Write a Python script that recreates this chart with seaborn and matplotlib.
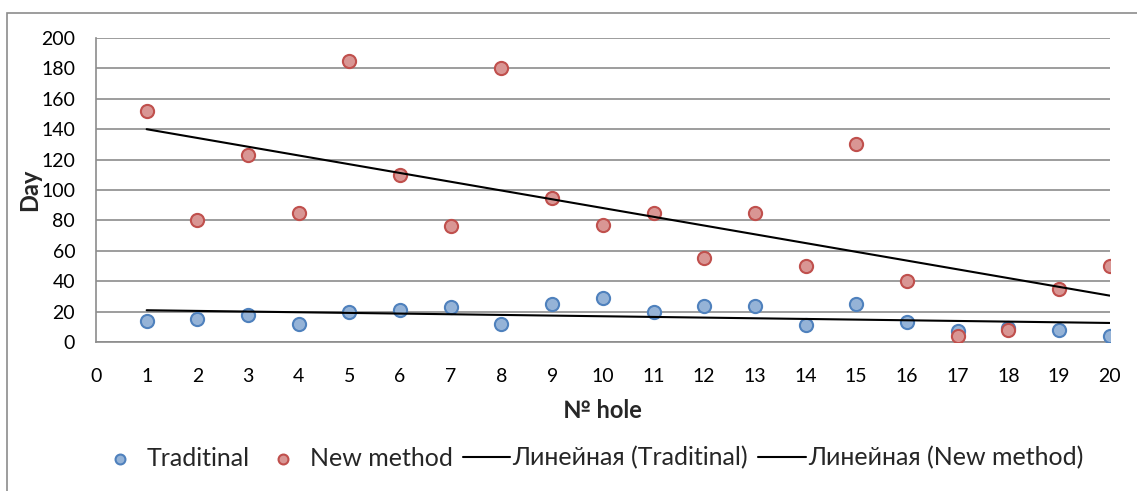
import pandas as pd
import seaborn as sns
import matplotlib.pyplot as plt
from matplotlib.patches import Rectangle

sns.set_style('white')
plt.rcParams['font.family'] = ['Lato', 'DejaVu Sans']

# data
holes = list(range(1, 21))
traditional = [14, 15, 18, 12, 20, 21, 23, 12, 25, 29, 20, 24, 24, 11, 25, 13, 7, 9, 8, 4]
new_method = [152, 80, 123, 85, 185, 110, 76, 180, 95, 77, 85, 55, 85, 50, 130, 40, 4, 8, 35, 50]
x_ticks = list(range(0, 21))
y_ticks = list(range(0, 201, 20))

df = pd.DataFrame({'hole': holes, 'Traditinal': traditional, 'New method': new_method})

fig, ax = plt.subplots(figsize=(11.37, 4.91), dpi=100)
plt.subplots_adjust(left=0.0844, right=0.976, top=0.9226, bottom=0.3035)

# outer chart border
fig.patches.append(Rectangle((7 / 1137, -0.01), 1.0, 1 - 13 / 491 + 0.01, transform=fig.transFigure,
                             fill=False, edgecolor='#8c8c8c', linewidth=1.2))

grid_col = '#8c8c8c'
for y in y_ticks:
    ax.axhline(y, color=grid_col, lw=1.2, zorder=0)

sns.scatterplot(x='hole', y='Traditinal', data=df, ax=ax, s=90, color='#95b3d7',
                edgecolor='#4f81bd', linewidth=1.5, label='Traditinal', zorder=3)
sns.scatterplot(x='hole', y='New method', data=df, ax=ax, s=90, color='#d99694',
                edgecolor='#c0504d', linewidth=1.5, label='New method', zorder=3)

# linear trend lines
sns.regplot(x='hole', y='Traditinal', data=df, ax=ax, scatter=False, ci=None, truncate=True,
            line_kws=dict(color='black', lw=1.5, zorder=4), label='Линейная (Traditinal)')
sns.regplot(x='hole', y='New method', data=df, ax=ax, scatter=False, ci=None, truncate=True,
            line_kws=dict(color='black', lw=1.5, zorder=4), label='Линейная (New method)')

ax.set_xlim(0, 20)
ax.set_ylim(0, 200)
ax.set_xticks(x_ticks)
ax.set_yticks(y_ticks)
ax.tick_params(axis='both', labelsize=14, colors=grid_col, labelcolor='black',
               length=6, width=1.2, direction='out')
ax.tick_params(axis='x', pad=13)
ax.tick_params(axis='y', pad=9)
for s in ['top', 'right']:
    ax.spines[s].set_visible(False)
for s in ['left', 'bottom']:
    ax.spines[s].set_color(grid_col)
    ax.spines[s].set_linewidth(1.2)
ax.set_clip_on(False)

ax.set_xlabel('№ hole', fontsize=17, fontweight='bold', labelpad=10)
ax.set_ylabel('Day', fontsize=17, fontweight='bold', labelpad=0)

handles, labels = ax.get_legend_handles_labels()
if ax.legend_:
    ax.legend_.remove()
fig.legend(handles, labels, loc='center', bbox_to_anchor=(0.519, 1 - 458 / 491), ncol=4,
           frameon=False, fontsize=18, handlelength=1.9, handletextpad=0.1, columnspacing=0.4,
           markerscale=0.75)

plt.savefig('out.png', dpi=100)
